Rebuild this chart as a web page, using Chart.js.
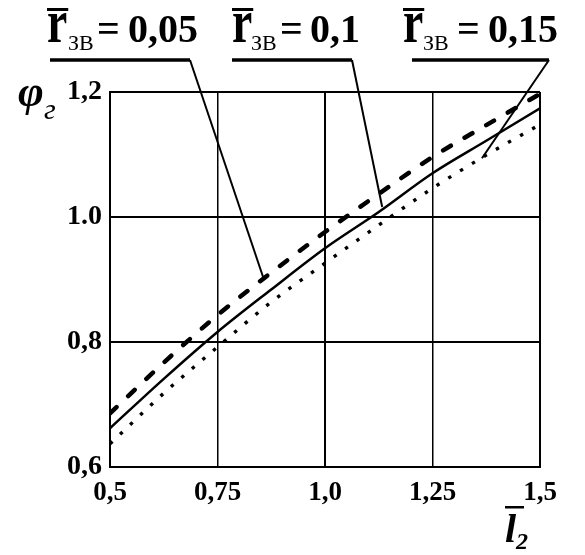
<!DOCTYPE html>
<html>
<head>
  <meta charset="utf-8">
  <title>phi_g</title>
  <script src="https://cdn.jsdelivr.net/npm/chart.js@4/dist/chart.umd.min.js"></script>
  <style>
    body { margin: 0; background: #fff; }
  </style>
</head>
<body>
  <canvas id="canvas" width="585" height="555"></canvas>
  <script>
    // values
    const xVals = [0.5, 0.625, 0.75, 0.875, 1.0, 1.125, 1.25, 1.375, 1.5];
    const r005 = [0.686, 0.767, 0.843, 0.911, 0.976, 1.037, 1.096, 1.147, 1.197]; // dashed
    const r01 = [0.662, 0.741, 0.816, 0.884, 0.950, 1.008, 1.070, 1.122, 1.174];  // solid
    const r015 = [0.637, 0.718, 0.792, 0.864, 0.926, 0.987, 1.046, 1.099, 1.148]; // dotted

    const xTicks = [0.5, 0.75, 1.0, 1.25, 1.5];
    const xTickLabels = ['0,5', '0,75', '1,0', '1,25', '1,5'];
    const yTicks = [0.6, 0.8, 1.0, 1.2];
    const yTickLabels = ['0,6', '0,8', '1.0', '1,2'];

    // labels and where their leader lines end (data coords)
    const labelValues = ['0,05', '0,1', '0,15'];
    const leaderEnds = [[0.856, 0.904], [1.133, 1.016], [1.365, 1.094]];

    function pts(ys) {
      return xVals.map((x, i) => ({ x: x, y: ys[i] }));
    }

    const serif = '"Liberation Serif", "DejaVu Serif", serif';

    // draws the labels, leaders and axis titles
    const notes = {
      id: 'notes',
      afterDraw(chart) {
        const ctx = chart.ctx;
        const xs = chart.scales.x, ys = chart.scales.y;
        ctx.save();
        ctx.fillStyle = '#000';
        ctx.strokeStyle = '#000';
        ctx.textBaseline = 'alphabetic';
        ctx.textAlign = 'left';

        // pixel layout of the three labels
        const rX = [47, 232, 403];
        const subX = [68, 251, 423];
        const eqX = [97, 280, 457];
        const numX = [128, 310, 488];
        const lineFrom = [50, 232, 412];
        const corners = [190, 352, 549];
        for (let i = 0; i < 3; i++) {
          // tall r with bar
          ctx.save();
          ctx.translate(rX[i], 42);
          ctx.scale(1.2, 1.6);
          ctx.font = 'bold 38px ' + serif;
          ctx.fillText('r', 0, 0);
          const rw = ctx.measureText('r').width * 1.2;
          ctx.restore();
          ctx.fillRect(rX[i], 8, rw + 1, 3);
          ctx.font = '22px ' + serif;
          ctx.fillText('ЗВ', subX[i], 50);
          ctx.font = 'bold 40px ' + serif;
          ctx.fillText('=', eqX[i], 42);
          ctx.fillText(labelValues[i], numX[i], 42);

          // leader
          const ex = xs.getPixelForValue(leaderEnds[i][0]);
          const ey = ys.getPixelForValue(leaderEnds[i][1]);
          ctx.lineWidth = 3.5;
          ctx.beginPath();
          ctx.moveTo(lineFrom[i], 60);
          ctx.lineTo(corners[i], 60);
          ctx.stroke();
          ctx.lineWidth = 2;
          ctx.beginPath();
          ctx.moveTo(corners[i], 60);
          ctx.lineTo(ex, ey);
          ctx.stroke();
        }

        // y title
        ctx.font = 'italic bold 44px ' + serif;
        ctx.fillText('φ', 18, 106);
        ctx.font = 'italic 30px ' + serif;
        ctx.fillText('г', 44, 119);

        // x title
        ctx.font = 'italic bold 40px ' + serif;
        ctx.fillText('l', 505, 542);
        ctx.fillRect(505, 506, 19, 2.5);
        ctx.font = 'italic bold 24px ' + serif;
        ctx.fillText('2', 516, 549);

        ctx.restore();
      }
    };

    var chartObject = document.getElementById('canvas');
    var chart1 = new Chart(chartObject, {
      type: 'line',
      data: {
        datasets: [{
          label: '0,05',
          data: pts(r005),
          borderColor: '#000',
          borderWidth: 4.5,
          borderDash: [9, 16],
          borderCapStyle: 'round',
          pointRadius: 0,
          cubicInterpolationMode: 'monotone'
        }, {
          label: '0,1',
          data: pts(r01),
          borderColor: '#000',
          borderWidth: 2.5,
          pointRadius: 0,
          cubicInterpolationMode: 'monotone'
        }, {
          label: '0,15',
          data: pts(r015),
          borderColor: '#000',
          borderWidth: 3.4,
          borderDash: [3.4, 10.5],
          pointRadius: 0,
          cubicInterpolationMode: 'monotone'
        }]
      },
      options: {
        responsive: false,
        animation: false,
        layout: { padding: { top: 92, right: 45, left: 0, bottom: 0 } },
        plugins: { legend: { display: false }, tooltip: { enabled: false } },
        scales: {
          x: {
            type: 'linear',
            min: 0.5,
            max: 1.5,
            afterBuildTicks: s => { s.ticks = xTicks.map(v => ({ value: v })); },
            afterFit: s => { s.height = 88; },
            ticks: {
              color: '#000',
              padding: 10,
              maxRotation: 0,
              font: { family: serif, size: 27, weight: 'bold' },
              callback: v => xTickLabels[xTicks.indexOf(v)]
            },
            grid: {
              color: '#000',
              lineWidth: c => (c.tick && (c.tick.value === 0.75 || c.tick.value === 1.25)) ? 1.5 : 2,
              drawTicks: false
            },
            border: { color: '#000', width: 2 }
          },
          y: {
            min: 0.6,
            max: 1.2,
            afterBuildTicks: s => { s.ticks = yTicks.map(v => ({ value: v })); },
            afterFit: s => { s.width = 110; },
            ticks: {
              color: '#000',
              padding: 8,
              font: { family: serif, size: 28, weight: 'bold' },
              callback: v => yTickLabels[yTicks.findIndex(t => Math.abs(t - v) < 1e-9)]
            },
            grid: { color: '#000', lineWidth: 2, drawTicks: false },
            border: { color: '#000', width: 2 }
          }
        }
      },
      plugins: [notes]
    });
  </script>
</body>
</html>
